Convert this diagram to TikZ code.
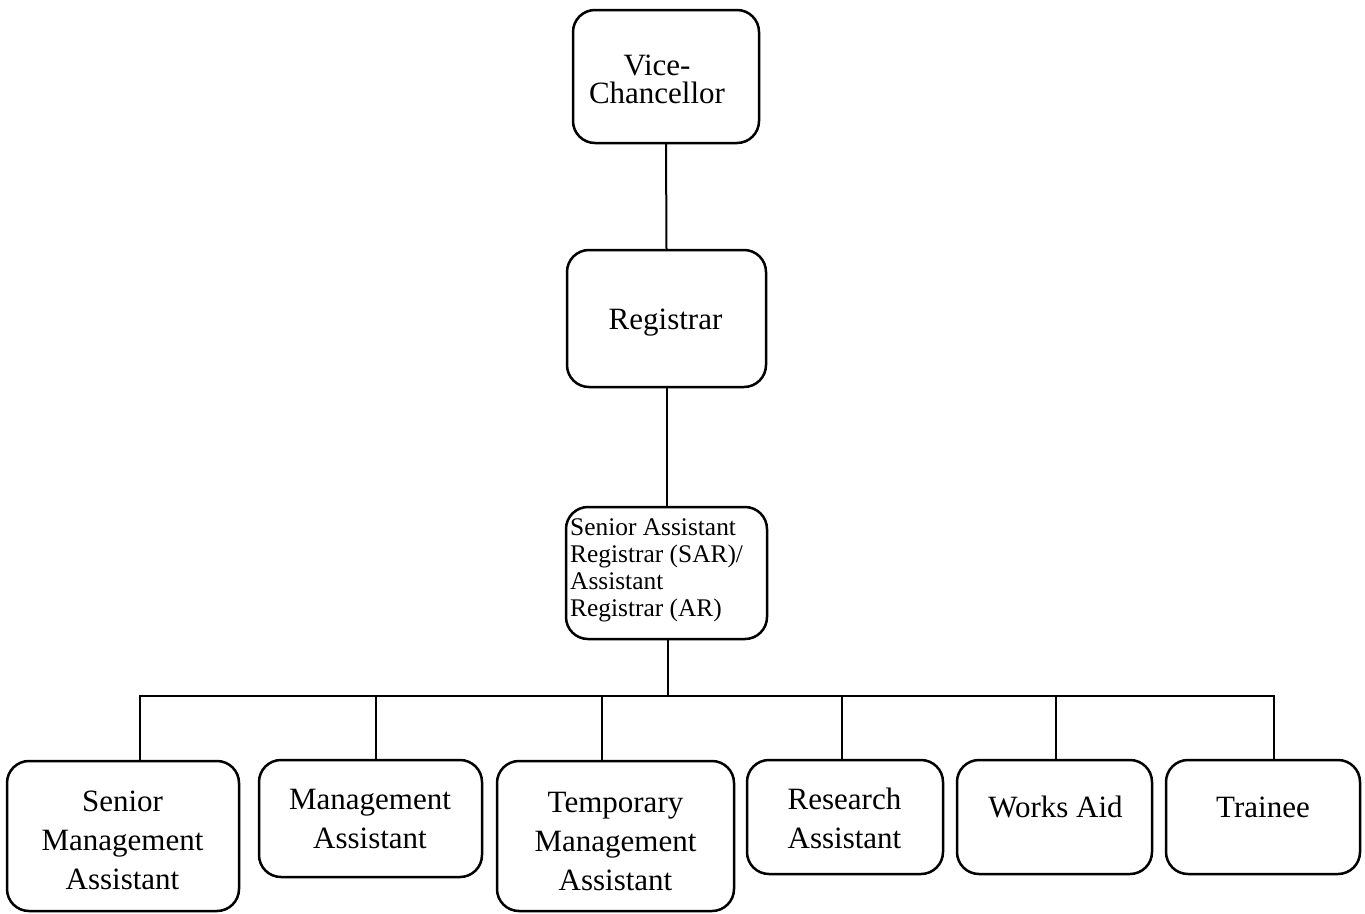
\documentclass[tikz,border=0pt]{standalone}
\usepackage{fontspec}
\setmainfont{Liberation Serif}
\begin{document}
\begin{tikzpicture}[x=1pt,y=-1pt,
  box/.style={draw, line width=2.5pt, rounded corners=22pt, inner sep=0pt, outer sep=0pt},
  lbl/.style={inner sep=0pt, anchor=base, align=center, font=\fontsize{31}{39}\selectfont},
  link/.style={line width=2pt},
  busline/.style={line width=1.2pt}]
\useasboundingbox (0,0) rectangle (1365,913);
\lineskiplimit=-100pt

% upper chain of offices
\node[box, minimum width=186pt, minimum height=133pt] (vc)  at (666,76.5) {};
\node[box, minimum width=199pt, minimum height=137pt] (reg) at (666.5,318.5) {};
\node[box, minimum width=201pt, minimum height=132pt] (sar) at (666.5,573) {};

% text nodes are placed by the baseline of their last line
\node[lbl, font=\fontsize{31}{28.5}\selectfont] (vct) at (657,103.5) {Vice-\\Chancellor};
\node[lbl] (regt) at (665.5,329) {Registrar};
\node[inner sep=0pt, anchor=base west, align=left, font=\fontsize{25.4}{27.2}\selectfont] (sart) at (570,616.7)
  {Senior Assistant\\Registrar (SAR)/\\Assistant\\Registrar (AR)};

% staff positions
\node[box, minimum width=232pt, minimum height=150pt] (b1) at (123,836) {};
\node[box, minimum width=223pt, minimum height=117pt] (b2) at (370.5,818.5) {};
\node[box, minimum width=237pt, minimum height=150pt] (b3) at (615.5,836) {};
\node[box, minimum width=196pt, minimum height=114pt] (b4) at (845,817) {};
\node[box, minimum width=195pt, minimum height=114pt] (b5) at (1054.5,817) {};
\node[box, minimum width=194pt, minimum height=114pt] (b6) at (1263,817) {};

\node[lbl] (t1) at (122.5,889) {Senior\\Management\\Assistant};
\node[lbl] (t2) at (370,848) {Management\\Assistant};
\node[lbl] (t3) at (615.5,890) {Temporary\\Management\\Assistant};
\node[lbl] (t4) at (844.5,848) {Research\\Assistant};
\node[lbl] (t5) at (1055.5,817) {Works Aid};
\node[lbl] (t6) at (1263,817) {Trainee};

% connectors
\draw[link] (vc.south) -- (reg.north);
\draw[link] (reg.south) -- (sar.north);

\coordinate (busL) at (139,696);
\coordinate (busR) at (1275,696);
\coordinate (hub) at (668,696);
\coordinate (d1) at (140,696);
\coordinate (d2) at (376,696);
\coordinate (d3) at (602,696);
\coordinate (d4) at (842,696);
\coordinate (d5) at (1056,696);
\coordinate (d6) at (1274,696);

\draw[busline] (sar.south -| hub) -- (hub);
\draw[busline] (busL) -- (busR);
\draw[busline] (d1) -- (d1 |- b1.north);
\draw[busline] (d2) -- (d2 |- b2.north);
\draw[busline] (d3) -- (d3 |- b3.north);
\draw[busline] (d4) -- (d4 |- b4.north);
\draw[busline] (d5) -- (d5 |- b5.north);
\draw[busline] (d6) -- (d6 |- b6.north);
\end{tikzpicture}
\end{document}
